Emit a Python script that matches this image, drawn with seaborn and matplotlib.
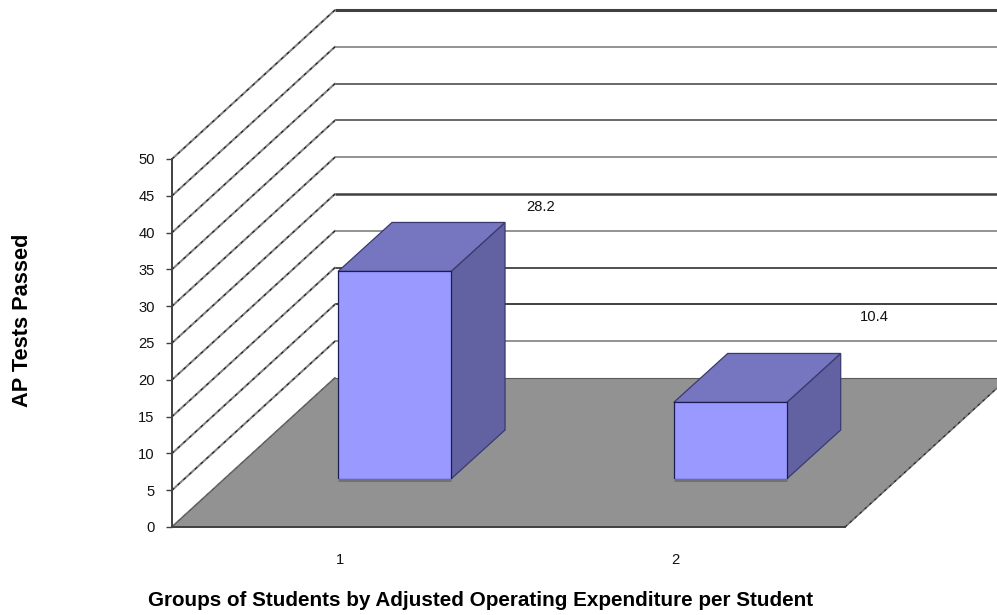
import matplotlib
matplotlib.use("Agg")
import matplotlib.pyplot as plt
import pandas as pd
import seaborn as sns
from matplotlib.patches import Polygon

groups = ["1", "2"]
values = [28.2, 10.4]
value_labels = ["28.2", "10.4"]
y_ticks = [0, 5, 10, 15, 20, 25, 30, 35, 40, 45, 50]
x_title = "Groups of Students by Adjusted Operating Expenditure per Student"
y_title = "AP Tests Passed"

sns.set_theme(style="white")
plt.rcParams["font.family"] = ["Liberation Sans", "DejaVu Sans"]

W, H = 997, 615
fig = plt.figure(figsize=(W / 100, H / 100), dpi=100, facecolor="white")

def rect(l, t, r, b):
    return [l / W, 1 - b / H, (r - l) / W, (b - t) / H]

XLIM = (-0.5, 1.505)
ax = fig.add_axes(rect(172, 159, 845, 527), zorder=1)
ax.set_xlim(*XLIM)
ax.set_ylim(0, 50)
ax.patch.set_alpha(0)
px_x = 673 / (XLIM[1] - XLIM[0])
px_y = 368 / 50
dep_x, dep_y = 163 / px_x, 149 / px_y

# back wall grid and left wall diagonals
dark, mid = "#404040", "#808080"
wall_styles = {0: (dark, 0), 5: (mid, 1.2), 10: (dark, 1.4), 15: (dark, 1.3), 20: (mid, 1.2),
               25: (dark, 1.8), 30: (mid, 1.2), 35: (dark, 1.1), 40: (dark, 1.1), 45: (mid, 1.2), 50: (dark, 2.2)}
for v in y_ticks:
    col, lw = wall_styles[v]
    if lw:
        ax.plot([XLIM[0] + dep_x, XLIM[1] + dep_x], [v + dep_y, v + dep_y], color=col, lw=lw,
                clip_on=False, zorder=1, solid_capstyle="butt")
    ax.plot([XLIM[0], XLIM[0] + dep_x], [v, v + dep_y], color="#858585", lw=1.5, clip_on=False, zorder=1)
    ax.plot([XLIM[0], XLIM[0] + dep_x], [v, v + dep_y], color="#111111", lw=0.7, clip_on=False, zorder=1.1,
            dashes=(3, 5))

# floor
floor = Polygon([(XLIM[0], 0), (XLIM[1], 0), (XLIM[1] + dep_x, dep_y), (XLIM[0] + dep_x, dep_y)],
                closed=True, facecolor="#929292", edgecolor="none", clip_on=False, zorder=2)
ax.add_patch(floor)
ax.plot([XLIM[0] + dep_x, XLIM[1] + dep_x], [dep_y, dep_y], color="#5a5a5a", lw=0.8, clip_on=False, zorder=2.1)
ax.plot([XLIM[1], XLIM[1] + dep_x], [0, dep_y], color="#707070", lw=1.3, clip_on=False, zorder=2.1)
ax.plot([XLIM[1], XLIM[1] + dep_x], [0, dep_y], color="#111111", lw=0.6, clip_on=False, zorder=2.2, dashes=(3, 5))
ax.plot([XLIM[0], XLIM[0] + dep_x], [0, dep_y], color="#606060", lw=0.8, clip_on=False, zorder=2.1)

for s in ("top", "right"):
    ax.spines[s].set_visible(False)
for s in ("left", "bottom"):
    ax.spines[s].set_visible(True)
    ax.spines[s].set_color(dark)
    ax.spines[s].set_linewidth(1.4)
    ax.spines[s].set_zorder(3)
ax.set_yticks(y_ticks)
ax.set_xticks(range(len(groups)))
ax.set_xticklabels(groups)
ax.tick_params(axis="y", left=True, length=4, width=1, color=dark, labelsize=10.6, labelcolor="#111111", pad=8.5)
ax.tick_params(axis="x", bottom=False, labelsize=10.6, labelcolor="#111111", pad=13)
ax.grid(False)

# plane on which the bars stand, part way back along the floor
plane = fig.add_axes(rect(226.7, 111, 899.7, 479), zorder=2)
df = pd.DataFrame({"group": groups, "value": values})
sns.barplot(data=df, x="group", y="value", ax=plane, color="#9999FF", saturation=1, width=0.3366,
            edgecolor="#1c1c50", linewidth=0.9, errorbar=None, zorder=3)
plane.set_xlim(*XLIM)
plane.set_ylim(0, 50)
plane.axis("off")
plane.patch.set_alpha(0)

bx, by = 54 / px_x, 49 / px_y
label_shift = [(36 / px_x, 15 / px_y), (34 / px_x, 36 / px_y)]
for bar, text, (sx, sy) in zip(plane.patches, value_labels, label_shift):
    x0, w, h = bar.get_x(), bar.get_width(), bar.get_height()
    top = Polygon([(x0, h), (x0 + w, h), (x0 + w + bx, h + by), (x0 + bx, h + by)], closed=True,
                  facecolor="#7575C0", edgecolor="#3a3a70", lw=0.9, clip_on=False, zorder=2)
    side = Polygon([(x0 + w, 0), (x0 + w + bx, by), (x0 + w + bx, h + by), (x0 + w, h)], closed=True,
                   facecolor="#6262A2", edgecolor="#3a3a70", lw=0.9, clip_on=False, zorder=2)
    plane.add_patch(side)
    plane.add_patch(top)
    plane.plot([x0, x0 + w], [-0.2, -0.2], color="#707070", lw=2, clip_on=False, zorder=4,
               solid_capstyle="butt")
    plane.text(x0 + w + bx + sx, h + by + sy, text, ha="center", va="center", fontsize=10.6, color="#111111",
               clip_on=False)

fig.text(481 / W, 1 - 600 / H, x_title, ha="center", va="center", fontsize=14.9, fontweight="bold", color="black")
fig.text(22.5 / W, 1 - 320 / H, y_title, ha="center", va="center", rotation=90, fontsize=15.7, fontweight="bold",
         color="black")

fig.savefig("out.png", dpi=100, facecolor="white")
